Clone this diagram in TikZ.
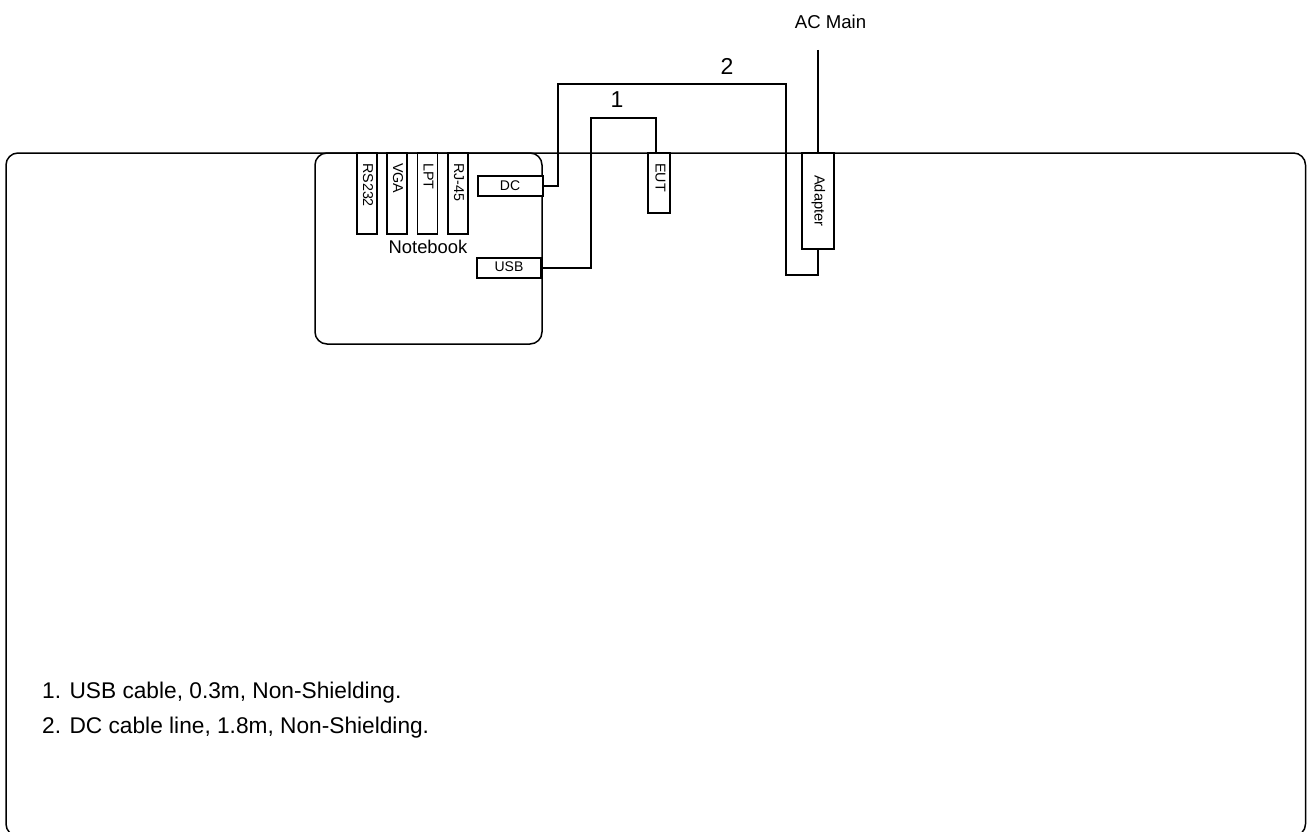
\documentclass[tikz,border=0pt]{standalone}
\usepackage{fontspec}
\setmainfont{Liberation Sans}
\tikzset{
  box/.style={draw=black,line width=1.5pt,fill=white,inner sep=0pt,outer sep=0pt},
  outerbox/.style={draw=black,line width=1.5pt,inner sep=0pt,outer sep=0pt,rounded corners=12pt},
  cable/.style={draw=black,line width=1.5pt,line join=miter},
  lab/.style={inner sep=0pt,font=\fontsize{#1}{#1}\selectfont},
  lab/.default=14
}
\newcommand{\rectnode}[5]{%
  \node[box,anchor=north west,minimum width={(#4-#2)*1pt},minimum height={(#5-#3)*1pt}] (#1) at (#2,#3) {};
}
\begin{document}
\begin{tikzpicture}[x=1pt,y=-1pt]
\useasboundingbox (0,0) rectangle (1311,832);
\clip (0,0) rectangle (1311,832);
\node[outerbox,anchor=north west,minimum width=1299.5pt,minimum height=683pt] (room) at (6,153) {};
\node[outerbox,anchor=north west,minimum width=227pt,minimum height=191pt] (nb) at (315,153) {};
\rectnode{rs}{357}{153}{377}{234}
\rectnode{vga}{387}{153}{407}{234}
\rectnode{lpt}{417.5}{153}{437.5}{234}
\rectnode{rj}{448}{153}{468}{234}
\rectnode{dc}{478}{176}{543}{196}
\rectnode{usb}{477}{258}{541}{278}
\rectnode{eut}{648}{153}{670}{213}
\rectnode{ada}{802}{153}{834}{249}
\node[lab=14.3,rotate=-90,anchor=west] at (368,163) {RS232};
\node[lab=14.3,rotate=-90,anchor=west] at (398,163) {VGA};
\node[lab=14.3,rotate=-90,anchor=west] at (428.5,163) {LPT};
\node[lab=14.3,rotate=-90,anchor=west] at (459,163) {RJ-45};
\node[lab=14] at (510,186) {DC};
\node[lab=14] at (509,266.5) {USB};
\node[lab=14.3,rotate=-90,anchor=west] at (660.5,163) {EUT};
\node[lab=14.6,rotate=-90,anchor=west] at (818.5,175) {Adapter};
\node[lab=18.4] at (428,247) {Notebook};
\coordinate (acin) at (818,50);
\coordinate (ada-t) at (818,153);
\coordinate (ada-b) at (818,249);
\coordinate (eut-t) at (656,153);
\draw[cable] (dc.east) -| (558,84) -- (786,84) -- (786,275) -- (818,275) -- (ada-b);
\draw[cable] (usb.east) -| (591,118) -- (656,118) -- (eut-t);
\draw[cable] (acin) -- (ada-t);
\node[lab=23] at (617,100) {1};
\node[lab=23] at (727,66) {2};
\node[lab=18.6] at (830.5,22) {AC Main};
\node[lab=22.7,anchor=base west] at (42,698) {1. USB cable, 0.3m, Non-Shielding.};
\node[lab=22.7,anchor=base west] at (42,733) {2. DC cable line, 1.8m, Non-Shielding.};
\end{tikzpicture}
\end{document}
